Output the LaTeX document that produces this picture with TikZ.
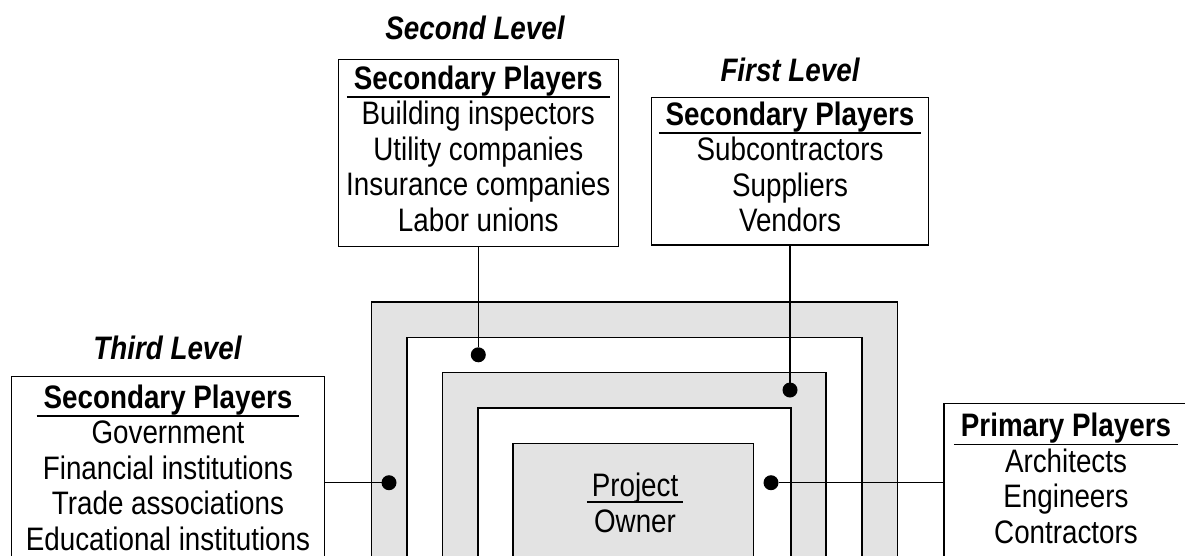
\documentclass[tikz,border=0pt]{standalone}
\usepackage{fontspec}
\setmainfont{Liberation Sans}[FakeStretch=0.855]
\definecolor{bandgray}{HTML}{E3E3E3}

% underlined words: the rule runs a little past both ends
% #1 overhang, #2 drop of the rule below the baseline, #3 words
\newcommand\ruledline[3]{%
  \setbox0=\hbox{\kern#1\relax#3\kern#1\relax}%
  \rlap{\raisebox{-#2}{\rule{\wd0}{1.8pt}}}\box0}
\newcommand\heading[1]{\ruledline{7pt}{8.6pt}{\bfseries #1}}

\tikzset{
  txt/.style={font=\fontsize{32.5}{35.5}\selectfont, inner sep=0pt, outer sep=0pt},
  % multi-line blocks are placed by the baseline of their last line
  listing/.style={txt, align=center, anchor=base},
  leveltitle/.style={txt, anchor=base, font=\fontsize{32.5}{35.5}\selectfont\bfseries\itshape},
  frame/.style={draw=black, line width=1.4pt, fill=white, inner sep=0pt, outer sep=0pt},
  band/.style={draw=black, line width=1.6pt},
  link/.style={draw=black, line width=1.4pt},
  joint/.style={circle, fill=black, minimum size=15pt, inner sep=0pt, outer sep=0pt},
}

\begin{document}
\begin{tikzpicture}[x=1pt, y=-1pt]
  \useasboundingbox (0,0) rectangle (1185,555);
  \clip (0,0) rectangle (1185,555);

  % nested bands around the owner, running on below the lower edge
  \draw[band, fill=bandgray] (371.4,301.7) rectangle (897.5,620);
  \draw[band, fill=white]    (406.8,337.3) rectangle (861.8,620);
  \draw[band, fill=bandgray] (442.5,372.3) rectangle (826,620);
  \draw[band, fill=white]    (477.9,407.7) rectangle (791,620);
  \node[band, fill=bandgray, minimum width=240.4pt, minimum height=176.7pt,
        inner sep=0pt, outer sep=0pt] (owner) at (633.4,531.65) {};
  \node[listing] (ownerlabel) at (635,532.7) {\ruledline{5pt}{6.4pt}{Project}\\[0.5pt]Owner};

  % player boxes
  \node[frame, minimum width=280pt,   minimum height=187.4pt] (b2) at (478.3,153) {};
  \node[frame, minimum width=276.6pt, minimum height=147.7pt] (b1) at (790,171.15) {};
  \node[frame, minimum width=312.6pt, minimum height=243.3pt] (b3) at (168,498.35) {};
  \node[frame, minimum width=256pt,   minimum height=216.7pt] (b0) at (1072,511.65) {};

  % level titles
  \node[leveltitle] (t2) at (475,39)    {Second Level};
  \node[leveltitle] (t1) at (790,81)    {First Level};
  \node[leveltitle] (t3) at (167.5,359) {Third Level};

  % box contents
  \node[listing] (b2t) at (478.3,231) {\heading{Secondary Players}\\Building inspectors\\
    Utility companies\\Insurance companies\\Labor unions};
  \node[listing] (b1t) at (790,231.5) {\heading{Secondary Players}\\Subcontractors\\
    Suppliers\\Vendors};
  \node[listing] (b3t) at (168,550) {\heading{Secondary Players}\\Government\\
    Financial institutions\\Trade associations\\Educational institutions};
  \node[listing] (b0t) at (1066,543.2) {\heading{Primary Players}\\Architects\\
    Engineers\\Contractors};

  % joints on the bands
  \node[joint] (d2) at (478.3,354.8) {};
  \node[joint] (d1) at (790,390) {};
  \node[joint] (d3) at (389,482.7) {};
  \node[joint] (d0) at (771,482.7) {};

  % connectors
  \draw[link] (b2.south) -- (d2);
  \draw[link] (b1.south) -- (d1);
  \draw[link] (b3.east |- d3) -- (d3);
  \draw[link] (d0) -- (b0.west |- d0);
\end{tikzpicture}
\end{document}
